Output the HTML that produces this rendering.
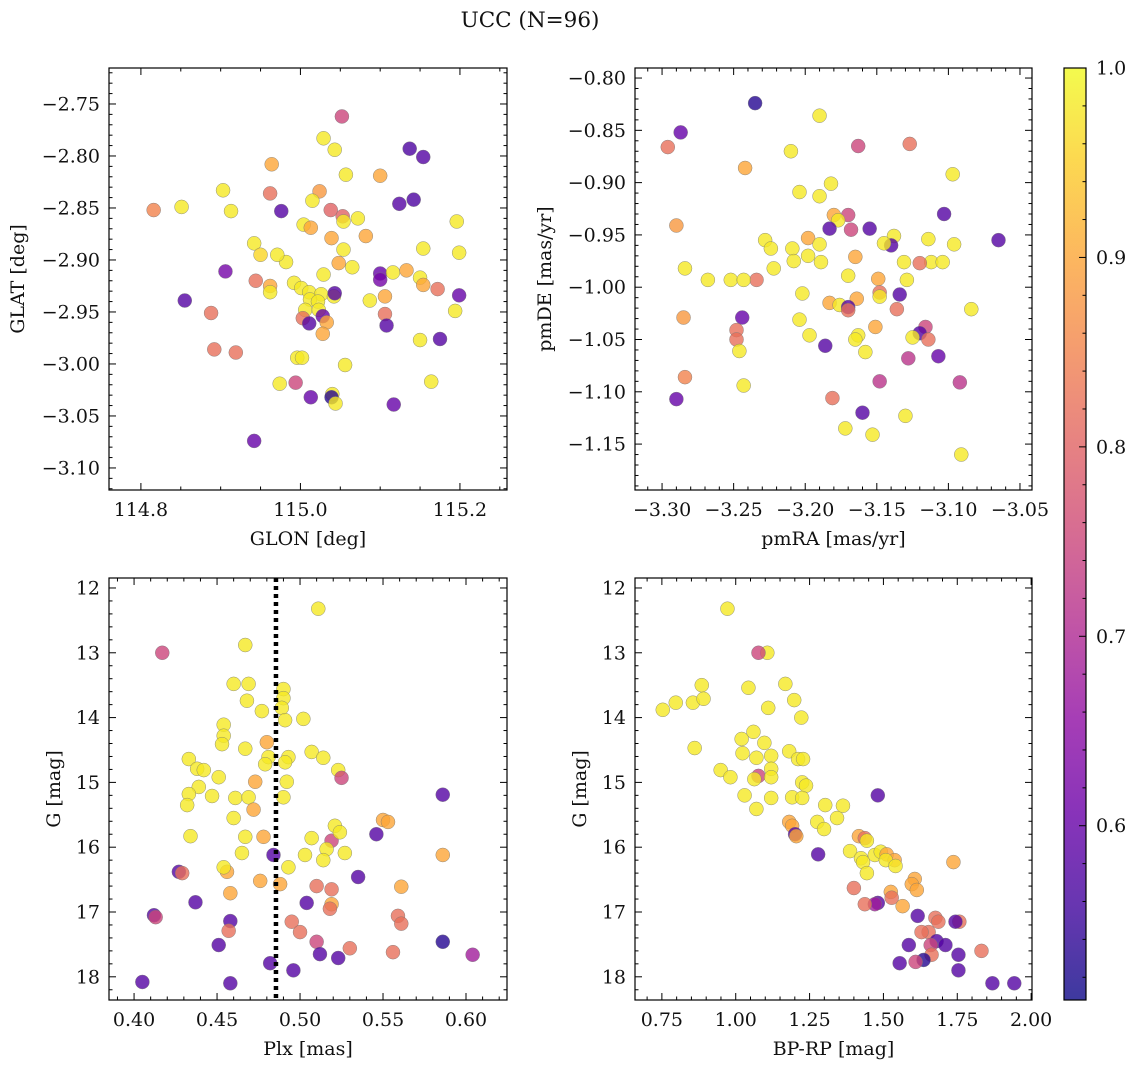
<!DOCTYPE html>
<html><head><meta charset="utf-8"><style>
html,body{margin:0;padding:0;background:#fff;width:1136px;height:1067px;overflow:hidden}
svg{display:block}
text{font-family:"DejaVu Serif","Liberation Serif",serif;fill:#111}
</style></head><body>
<svg id="fig" width="1136" height="1067" viewBox="0 0 1136 1067">
<defs><linearGradient id="cbg" x1="0" y1="1" x2="0" y2="0"></linearGradient></defs>
<text x="530" y="27" font-size="21.5" text-anchor="middle">UCC (N=96)</text>
</svg>
<script>
// ---------- data ----------
const tlGlon=[115.052,115.029,115.043,115.137,115.154,114.964,115.057,115.100,114.903,114.962,115.024,114.851,114.816,114.913,114.976,115.124,115.142,115.015,115.038,115.053,115.054,115.072,115.196,115.004,115.013,115.039,115.082,115.054,115.154,115.199,114.942,114.982,114.950,114.971,114.906,114.962,114.962,114.992,115.029,115.065,115.048,115.100,115.100,115.116,115.133,115.150,115.154,115.172,115.106,115.199,115.001,115.011,115.026,115.042,115.043,115.012,115.022,115.006,115.023,115.087,114.855,114.888,115.194,115.106,115.003,115.028,115.033,115.011,115.108,115.175,115.028,114.892,114.919,114.996,115.002,115.150,115.056,114.974,114.994,115.164,115.040,115.039,115.044,115.013,115.117,114.942,114.944];
const tlGlat=[-2.762,-2.783,-2.794,-2.793,-2.801,-2.808,-2.818,-2.819,-2.833,-2.836,-2.834,-2.849,-2.852,-2.853,-2.853,-2.846,-2.842,-2.843,-2.852,-2.858,-2.863,-2.860,-2.863,-2.866,-2.869,-2.879,-2.877,-2.890,-2.889,-2.893,-2.884,-2.902,-2.895,-2.895,-2.911,-2.925,-2.931,-2.922,-2.914,-2.907,-2.903,-2.913,-2.919,-2.912,-2.910,-2.917,-2.924,-2.928,-2.935,-2.934,-2.927,-2.931,-2.933,-2.935,-2.932,-2.938,-2.940,-2.948,-2.948,-2.939,-2.939,-2.951,-2.949,-2.952,-2.956,-2.954,-2.960,-2.961,-2.963,-2.976,-2.971,-2.986,-2.989,-2.994,-2.994,-2.977,-3.001,-3.019,-3.018,-3.017,-3.029,-3.032,-3.038,-3.032,-3.039,-3.074,-2.920];
const tlProb=[0.75,0.98,0.98,0.57,0.58,0.90,0.98,0.90,0.98,0.82,0.88,0.98,0.85,0.98,0.58,0.58,0.57,0.98,0.80,0.80,0.98,0.98,0.98,0.98,0.90,0.90,0.90,0.98,0.98,0.98,0.98,0.98,0.96,0.98,0.62,0.90,0.98,0.98,0.98,0.98,0.90,0.60,0.62,0.98,0.90,0.98,0.90,0.82,0.90,0.60,0.98,0.98,0.98,0.98,0.58,0.98,0.98,0.98,0.98,0.98,0.58,0.82,0.98,0.82,0.82,0.60,0.90,0.58,0.58,0.58,0.90,0.82,0.82,0.98,0.98,0.98,0.98,0.98,0.75,0.98,0.98,0.53,0.98,0.60,0.60,0.60,0.82];

const trPmra=[-3.235,-3.287,-3.296,-3.190,-3.163,-3.127,-3.210,-3.242,-3.097,-3.182,-3.204,-3.190,-3.103,-3.180,-3.170,-3.177,-3.290,-3.183,-3.155,-3.138,-3.168,-3.228,-3.198,-3.114,-3.065,-3.140,-3.145,-3.096,-3.190,-3.209,-3.224,-3.198,-3.189,-3.165,-3.208,-3.131,-3.112,-3.104,-3.120,-3.222,-3.284,-3.234,-3.252,-3.243,-3.268,-3.170,-3.149,-3.129,-3.202,-3.148,-3.148,-3.134,-3.164,-3.183,-3.176,-3.170,-3.170,-3.136,-3.084,-3.244,-3.204,-3.285,-3.151,-3.248,-3.116,-3.120,-3.197,-3.163,-3.248,-3.165,-3.125,-3.114,-3.186,-3.246,-3.158,-3.128,-3.107,-3.284,-3.243,-3.148,-3.092,-3.290,-3.181,-3.160,-3.130,-3.172,-3.153,-3.091];
const trPmde=[-0.824,-0.852,-0.866,-0.836,-0.865,-0.863,-0.870,-0.886,-0.892,-0.901,-0.909,-0.913,-0.930,-0.931,-0.931,-0.936,-0.941,-0.944,-0.944,-0.951,-0.945,-0.955,-0.953,-0.954,-0.955,-0.960,-0.958,-0.959,-0.959,-0.963,-0.963,-0.970,-0.976,-0.971,-0.975,-0.976,-0.976,-0.976,-0.977,-0.982,-0.982,-0.993,-0.993,-0.993,-0.993,-0.989,-0.992,-0.993,-1.006,-1.005,-1.009,-1.007,-1.011,-1.015,-1.017,-1.019,-1.022,-1.021,-1.021,-1.029,-1.031,-1.029,-1.038,-1.041,-1.038,-1.044,-1.046,-1.046,-1.050,-1.050,-1.048,-1.050,-1.056,-1.061,-1.062,-1.068,-1.066,-1.086,-1.094,-1.090,-1.091,-1.107,-1.106,-1.120,-1.123,-1.135,-1.141,-1.160];
const trProb=[0.53,0.60,0.82,0.98,0.75,0.82,0.98,0.90,0.98,0.98,0.98,0.98,0.58,0.90,0.75,0.98,0.88,0.58,0.58,0.98,0.75,0.98,0.90,0.98,0.58,0.58,0.98,0.98,0.98,0.98,0.98,0.98,0.98,0.90,0.98,0.98,0.98,0.98,0.82,0.98,0.98,0.82,0.98,0.98,0.98,0.98,0.90,0.98,0.98,0.82,0.98,0.58,0.90,0.90,0.98,0.58,0.82,0.82,0.98,0.60,0.98,0.88,0.90,0.82,0.75,0.58,0.98,0.98,0.82,0.98,0.98,0.82,0.58,0.98,0.98,0.72,0.60,0.85,0.98,0.72,0.72,0.60,0.82,0.58,0.98,0.98,0.98,0.98];

const blPlx=[0.511,0.417,0.467,0.460,0.469,0.490,0.490,0.468,0.489,0.477,0.491,0.502,0.454,0.454,0.453,0.480,0.467,0.507,0.493,0.433,0.481,0.479,0.514,0.491,0.438,0.442,0.451,0.523,0.525,0.473,0.492,0.439,0.433,0.447,0.461,0.469,0.490,0.586,0.432,0.472,0.460,0.550,0.553,0.521,0.519,0.524,0.507,0.434,0.467,0.478,0.546,0.465,0.503,0.484,0.527,0.516,0.514,0.586,0.493,0.456,0.454,0.427,0.429,0.535,0.476,0.488,0.510,0.561,0.519,0.458,0.519,0.437,0.504,0.518,0.412,0.413,0.559,0.561,0.495,0.458,0.457,0.500,0.510,0.451,0.586,0.530,0.523,0.556,0.512,0.604,0.482,0.496,0.405,0.458];
const blG=[12.32,13.00,12.88,13.48,13.48,13.56,13.70,13.74,13.85,13.90,14.04,14.02,14.11,14.28,14.41,14.38,14.48,14.53,14.61,14.64,14.61,14.72,14.62,14.69,14.79,14.81,14.92,14.81,14.93,14.99,14.99,15.07,15.18,15.21,15.24,15.23,15.23,15.19,15.35,15.42,15.55,15.58,15.61,15.67,15.90,15.77,15.86,15.83,15.84,15.84,15.80,16.09,16.12,16.12,16.09,16.03,16.20,16.12,16.31,16.38,16.31,16.38,16.40,16.46,16.52,16.57,16.60,16.61,16.65,16.71,16.88,16.85,16.86,16.95,17.05,17.08,17.06,17.18,17.15,17.14,17.29,17.31,17.46,17.51,17.46,17.56,17.71,17.62,17.65,17.66,17.79,17.90,18.08,18.10];
const blProb=[0.98,0.75,0.98,0.98,0.98,0.98,0.98,0.98,0.98,0.98,0.98,0.98,0.98,0.98,0.98,0.90,0.98,0.98,0.98,0.98,0.98,0.98,0.98,0.98,0.98,0.98,0.98,0.98,0.75,0.90,0.98,0.98,0.98,0.98,0.98,0.98,0.98,0.58,0.98,0.90,0.98,0.90,0.90,0.98,0.75,0.98,0.98,0.98,0.98,0.90,0.58,0.98,0.98,0.58,0.98,0.98,0.98,0.90,0.98,0.90,0.98,0.58,0.82,0.58,0.90,0.90,0.82,0.90,0.82,0.90,0.90,0.58,0.58,0.82,0.58,0.75,0.82,0.82,0.82,0.58,0.82,0.82,0.75,0.58,0.53,0.82,0.58,0.82,0.58,0.68,0.58,0.58,0.58,0.58];

const brBpRp=[0.972,1.107,1.077,0.753,0.797,0.885,0.855,0.891,1.043,1.168,1.198,1.110,1.222,1.060,1.020,1.097,0.861,1.120,1.070,1.023,1.181,1.211,1.228,0.949,0.982,1.077,1.063,1.120,1.120,1.225,1.238,1.030,1.191,1.120,1.225,1.303,1.070,1.363,1.181,1.276,1.343,1.481,1.191,1.299,1.201,1.205,1.417,1.437,1.444,1.387,1.424,1.279,1.471,1.491,1.511,1.538,1.508,1.431,1.541,1.737,1.444,1.606,1.596,1.400,1.525,1.528,1.613,1.565,1.481,1.471,1.437,1.616,1.676,1.686,1.757,1.744,1.653,1.629,1.680,1.660,1.586,1.710,1.754,1.832,1.663,1.636,1.609,1.555,1.754,1.869,1.943];
const brG=[12.32,13.00,13.00,13.88,13.77,13.50,13.77,13.71,13.54,13.48,13.73,13.85,14.00,14.22,14.33,14.39,14.47,14.59,14.62,14.55,14.52,14.64,14.64,14.81,14.92,14.90,14.95,14.79,14.92,15.00,15.05,15.20,15.23,15.24,15.24,15.35,15.41,15.36,15.61,15.61,15.55,15.20,15.67,15.72,15.80,15.83,15.83,15.86,15.90,16.06,16.17,16.11,16.12,16.07,16.11,16.20,16.20,16.23,16.29,16.23,16.40,16.49,16.57,16.63,16.69,16.78,16.66,16.91,16.86,16.88,16.88,17.06,17.09,17.15,17.15,17.15,17.31,17.31,17.45,17.51,17.51,17.51,17.66,17.60,17.66,17.74,17.77,17.79,17.90,18.10,18.10];
const brProb=[0.98,0.98,0.75,0.98,0.98,0.98,0.98,0.98,0.98,0.98,0.98,0.98,0.98,0.98,0.98,0.98,0.98,0.98,0.98,0.98,0.98,0.98,0.98,0.98,0.98,0.75,0.98,0.98,0.98,0.98,0.98,0.98,0.98,0.98,0.98,0.98,0.98,0.98,0.90,0.98,0.98,0.58,0.90,0.98,0.58,0.90,0.90,0.82,0.98,0.98,0.98,0.58,0.98,0.98,0.90,0.90,0.98,0.98,0.98,0.90,0.98,0.90,0.90,0.82,0.90,0.82,0.90,0.90,0.58,0.68,0.82,0.58,0.82,0.82,0.82,0.58,0.82,0.82,0.58,0.75,0.58,0.58,0.58,0.82,0.82,0.53,0.75,0.58,0.58,0.58,0.58];

const plxLine=[0.4855];
const cbTicks=[0.6,0.7,0.8,0.9,1.0];
const vmin=0.508, vmax=1.0;

// ---------- helpers ----------
const NS='http://www.w3.org/2000/svg';
const svg=document.getElementById('fig');
const FS=19;
function mk(tag,attrs,parent){const e=document.createElementNS(NS,tag);for(const k in attrs)e.setAttribute(k,attrs[k]);(parent||svg).appendChild(e);return e;}
const stops=[[13,8,135],[65,4,157],[106,0,168],[143,13,164],[177,42,144],[204,71,120],[225,100,98],[242,132,75],[252,166,54],[252,206,37],[240,249,33]];
function plasma(t){t=Math.max(0,Math.min(1,t));const f=t*10,i=Math.min(9,Math.floor(f)),u=f-i;const a=stops[i],b=stops[i+1];return 'rgb('+a.map((v,k)=>Math.round(v+(b[k]-v)*u)).join(',')+')';}
function fmt(v,d){return (v<0?'\u2212':'')+Math.abs(v).toFixed(d);}

function panel(o){
  const g=mk('g',{});
  
  
  const X=v=>o.x0+(v-o.xmin)/(o.xmax-o.xmin)*(o.x1-o.x0);
  const Y=v=>o.inv? o.y0+(v-o.ymin)/(o.ymax-o.ymin)*(o.y1-o.y0) : o.y1-(v-o.ymin)/(o.ymax-o.ymin)*(o.y1-o.y0);
  const pg=mk('g',{},g);
  
  
  for(let i=0;i<o.xs.length;i++){
    const c=mk('circle',{cx:X(o.xs[i]),cy:Y(o.ys[i]),r:7,fill:plasma((o.ps[i]-vmin)/(vmax-vmin)),'fill-opacity':0.8,stroke:'#777','stroke-width':0.5,'stroke-opacity':0.8},pg);
    
    
  }
  if(o.vline){for(const v of o.vline){const l=mk('line',{x1:X(v),x2:X(v),y1:o.y0,y2:o.y1,stroke:'#000','stroke-width':4.5,'stroke-dasharray':'4 4'},g);
    
    }}
  const fr=mk('rect',{x:o.x0,y:o.y0,width:o.x1-o.x0,height:o.y1-o.y0,fill:'none',stroke:'#000','stroke-width':1.2},g);
  
  
  const eps=1e-9;
  const n0=Math.ceil(o.xmin/o.xminor-eps),n1=Math.floor(o.xmax/o.xminor+eps);
  for(let n=n0;n<=n1;n++){const v=n*o.xminor;const px=X(v);const maj=Math.abs(v/o.xmajor-Math.round(v/o.xmajor))<1e-6;const L=maj?7:3.5;
    mk('line',{x1:px,x2:px,y1:o.y1,y2:o.y1-L,stroke:'#000','stroke-width':1},g);
    mk('line',{x1:px,x2:px,y1:o.y0,y2:o.y0+L,stroke:'#000','stroke-width':1},g);
    if(maj){const t=mk('text',{x:px,y:o.y1+26,'font-size':FS,'text-anchor':'middle'},g);t.textContent=fmt(v,o.xd);
      
      }}
  const m0=Math.ceil(Math.min(o.ymin,o.ymax)/o.yminor-eps),m1=Math.floor(Math.max(o.ymin,o.ymax)/o.yminor+eps);
  for(let n=m0;n<=m1;n++){const v=n*o.yminor;const py=Y(v);const maj=Math.abs(v/o.ymajor-Math.round(v/o.ymajor))<1e-6;const L=maj?7:3.5;
    mk('line',{x1:o.x0,x2:o.x0+L,y1:py,y2:py,stroke:'#000','stroke-width':1},g);
    mk('line',{x1:o.x1,x2:o.x1-L,y1:py,y2:py,stroke:'#000','stroke-width':1},g);
    if(maj){const t=mk('text',{x:o.x0-9,y:py+6.5,'font-size':FS,'text-anchor':'end'},g);t.textContent=fmt(v,o.yd);
      
      }}
  const xl=mk('text',{x:(o.x0+o.x1)/2,y:o.y1+55,'font-size':FS,'text-anchor':'middle'},g);xl.textContent=o.xlab;
  
  
  const yx=o.ylabx,yy=(o.y0+o.y1)/2;
  const yl=mk('text',{x:yx,y:yy,'font-size':FS,'text-anchor':'middle',transform:'rotate(-90 '+yx+' '+yy+')'},g);yl.textContent=o.ylab;
  
  
}

panel({name:'glon-glat-panel',xs:tlGlon,ys:tlGlat,ps:tlProb,x0:109,x1:507,y0:68,y1:490,xmin:114.760,xmax:115.259,ymin:-3.1212,ymax:-2.7154,xmajor:0.2,xminor:0.05,ymajor:0.05,yminor:0.01,xd:1,yd:2,xlab:'GLON [deg]',ylab:'GLAT [deg]',ylabx:24});
panel({name:'proper-motion-panel',xs:trPmra,ys:trPmde,ps:trProb,x0:635,x1:1032,y0:68,y1:490,xmin:-3.3189,xmax:-3.0416,ymin:-1.1939,ymax:-0.7904,xmajor:0.05,xminor:0.01,ymajor:0.05,yminor:0.01,xd:2,yd:2,xlab:'pmRA [mas/yr]',ylab:'pmDE [mas/yr]',ylabx:551});
panel({name:'plx-g-panel',xs:blPlx,ys:blG,ps:blProb,x0:109,x1:507,y0:578,y1:1000,xmin:0.3849,xmax:0.6247,ymin:11.846,ymax:18.358,inv:true,xmajor:0.05,xminor:0.01,ymajor:1,yminor:0.2,xd:2,yd:0,xlab:'Plx [mas]',ylab:'G [mag]',ylabx:60,vline:plxLine});
panel({name:'cmd-panel',xs:brBpRp,ys:brG,ps:brProb,x0:635,x1:1032,y0:578,y1:1000,xmin:0.659,xmax:2.003,ymin:11.846,ymax:18.358,inv:true,xmajor:0.25,xminor:0.05,ymajor:1,yminor:0.2,xd:2,yd:0,xlab:'BP-RP [mag]',ylab:'G [mag]',ylabx:586});

const grad=document.getElementById('cbg');
for(let i=0;i<=20;i++){const t=i/20;mk('stop',{offset:t,'stop-color':plasma(t),'stop-opacity':0.8},grad);}
const cb=mk('g',{});


const cx0=1064,cx1=1086,cy0=68,cy1=1000;
mk('rect',{x:cx0,y:cy0,width:cx1-cx0,height:cy1-cy0,fill:'url(#cbg)',stroke:'#000','stroke-width':1.2},cb);
const CY=v=>cy1-(v-vmin)/(vmax-vmin)*(cy1-cy0);
for(let n=26;n<=50;n++){const v=n*0.02;if(v<vmin)continue;const maj=n%5===0;const py=CY(v);
  mk('line',{x1:cx1,x2:cx1-(maj?7:3.5),y1:py,y2:py,stroke:'#000','stroke-width':1},cb);}
for(const v of cbTicks){const t=mk('text',{x:cx1+10,y:CY(v)+6.5,'font-size':FS},cb);t.textContent=v.toFixed(1);
  
  }
</script>
</body></html>
